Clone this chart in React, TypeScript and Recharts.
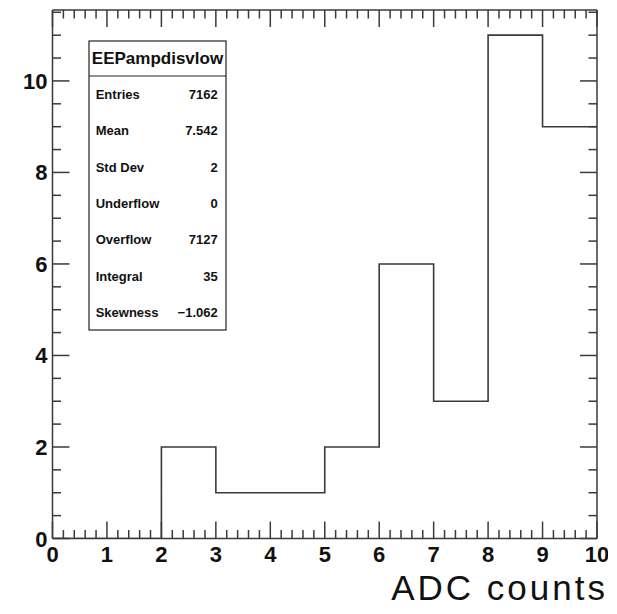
import React from "react";
import { ComposedChart, Line, XAxis, YAxis } from "recharts";

// Histogram bins (lower edges) and counts
const binEdges = [0, 1, 2, 3, 4, 5, 6, 7, 8, 9, 10];
const binCounts = [0, 0, 2, 1, 1, 2, 6, 3, 11, 9];

// Axis tick labels
const xMajorTicks = [0, 1, 2, 3, 4, 5, 6, 7, 8, 9, 10];
const yMajorTicks = [0, 2, 4, 6, 8, 10];

// Statistics box
const statsTitle = "EEPampdisvlow";
const statLabels = ["Entries", "Mean", "Std Dev", "Underflow", "Overflow", "Integral", "Skewness"];
const statValues = ["7162", "7.542", "2", "0", "7127", "35", "\u22121.062"];

const xTitle = "ADC counts";

const X_MIN = 0;
const X_MAX = 10;
const Y_MAX = 11.55;

const INK = "#3a3a3a";
const FONT = "'Liberation Sans', Arial, Helvetica, sans-serif";

const minorTicks = (from: number, to: number, step: number) => {
  const out: number[] = [];
  const n = Math.round((to - from) / step);
  for (let i = 0; i <= n; i++) out.push(+(from + i * step).toFixed(4));
  return out;
};

const xAllTicks = minorTicks(X_MIN, X_MAX, 0.2);
const yAllTicks = minorTicks(0, 11.5, 0.5);

// step outline: each edge carries the count of the bin it opens; the last edge repeats the final bin
const stepData = binEdges.map((x, i) => ({
  x,
  y: binCounts[Math.min(i, binCounts.length - 1)],
}));

type Side = "bottom" | "top" | "left" | "right";

const makeTick = (side: Side, majors: number[], labels: boolean) => (props: any) => {
  const { x, y, payload } = props;
  const v = payload.value as number;
  const isMajor = majors.some((m) => Math.abs(m - v) < 1e-6);
  const len = isMajor ? 17 : 8.5;
  let line;
  let label = null;
  if (side === "bottom") {
    line = <line x1={x} y1={y} x2={x} y2={y - len} stroke={INK} strokeWidth={1.5} />;
    if (labels && isMajor)
      label = (
        <text x={x} y={y + 23} textAnchor="middle" fontFamily={FONT} fontWeight="bold" fontSize={22} fill="#111">
          {v}
        </text>
      );
  } else if (side === "top") {
    line = <line x1={x} y1={y} x2={x} y2={y + len} stroke={INK} strokeWidth={1.5} />;
  } else if (side === "left") {
    line = <line x1={x} y1={y} x2={x + len} y2={y} stroke={INK} strokeWidth={1.5} />;
    if (labels && isMajor)
      label = (
        <text x={x - 5} y={y + 8} textAnchor="end" fontFamily={FONT} fontWeight="bold" fontSize={22} fill="#111">
          {v}
        </text>
      );
  } else {
    line = <line x1={x} y1={y} x2={x - len} y2={y} stroke={INK} strokeWidth={1.5} />;
  }
  return (
    <g>
      {line}
      {label}
    </g>
  );
};

const axisLine = { stroke: INK, strokeWidth: 1.5 };

export default function App() {
  const W = 600;
  const H = 598;
  const boxX = 81;
  const boxY = 33;
  const boxW = 137;
  const boxH = 289;
  const rowStart = 91;
  const rowGap = 36.3;

  return (
    <div style={{ position: "relative", width: W, height: H }}>
      <ComposedChart
        width={W}
        height={H}
        data={stepData}
        margin={{ top: 1, right: 10, bottom: 66.5, left: 43.5 }}
      >
        <XAxis
          xAxisId="b"
          dataKey="x"
          type="number"
          orientation="bottom"
          domain={[X_MIN, X_MAX]}
          allowDataOverflow
          ticks={xAllTicks}
          interval={0}
          height={1}
          tickSize={0}
          tickMargin={0}
          tickLine={false}
          axisLine={axisLine}
          tick={makeTick("bottom", xMajorTicks, true)}
        />
        <XAxis
          xAxisId="t"
          dataKey="x"
          type="number"
          orientation="top"
          domain={[X_MIN, X_MAX]}
          allowDataOverflow
          ticks={xAllTicks}
          interval={0}
          height={1}
          tickSize={0}
          tickMargin={0}
          tickLine={false}
          axisLine={axisLine}
          tick={makeTick("top", xMajorTicks, false)}
        />
        <YAxis
          yAxisId="l"
          type="number"
          orientation="left"
          domain={[0, Y_MAX]}
          allowDataOverflow
          ticks={yAllTicks}
          interval={0}
          width={1}
          tickSize={0}
          tickMargin={0}
          tickLine={false}
          axisLine={axisLine}
          tick={makeTick("left", yMajorTicks, true)}
        />
        <YAxis
          yAxisId="r"
          type="number"
          orientation="right"
          domain={[0, Y_MAX]}
          allowDataOverflow
          ticks={yAllTicks}
          interval={0}
          width={1}
          tickSize={0}
          tickMargin={0}
          tickLine={false}
          axisLine={axisLine}
          tick={makeTick("right", yMajorTicks, false)}
        />
        <Line
          xAxisId="b"
          yAxisId="l"
          type="stepAfter"
          dataKey="y"
          stroke={INK}
          strokeWidth={1.6}
          dot={false}
          activeDot={false}
          isAnimationActive={false}
        />
      </ComposedChart>
      <svg
        width={W}
        height={H}
        style={{ position: "absolute", left: 0, top: 0, pointerEvents: "none" }}
      >
        <rect x={boxX} y={boxY} width={boxW} height={boxH} fill="#fff" stroke="#222" strokeWidth={1.2} />
        <line x1={boxX} y1={68} x2={boxX + boxW} y2={68} stroke="#222" strokeWidth={1.2} />
        <text
          x={boxX + boxW / 2}
          y={55.5}
          textAnchor="middle"
          fontFamily={FONT}
          fontWeight="bold"
          fontSize={17}
          fill="#111"
        >
          {statsTitle}
        </text>
        {statLabels.map((lab, i) => (
          <g key={lab}>
            <text x={87.7} y={rowStart + i * rowGap} fontFamily={FONT} fontWeight="bold" fontSize={13} fill="#111">
              {lab}
            </text>
            <text
              x={209.7}
              y={rowStart + i * rowGap}
              textAnchor="end"
              fontFamily={FONT}
              fontWeight="bold"
              fontSize={13}
              fill="#111"
            >
              {statValues[i]}
            </text>
          </g>
        ))}
        <text x={600} y={592} textAnchor="end" fontFamily={FONT} fontSize={35} letterSpacing={3} fill="#111">
          {xTitle}
        </text>
      </svg>
    </div>
  );
}
